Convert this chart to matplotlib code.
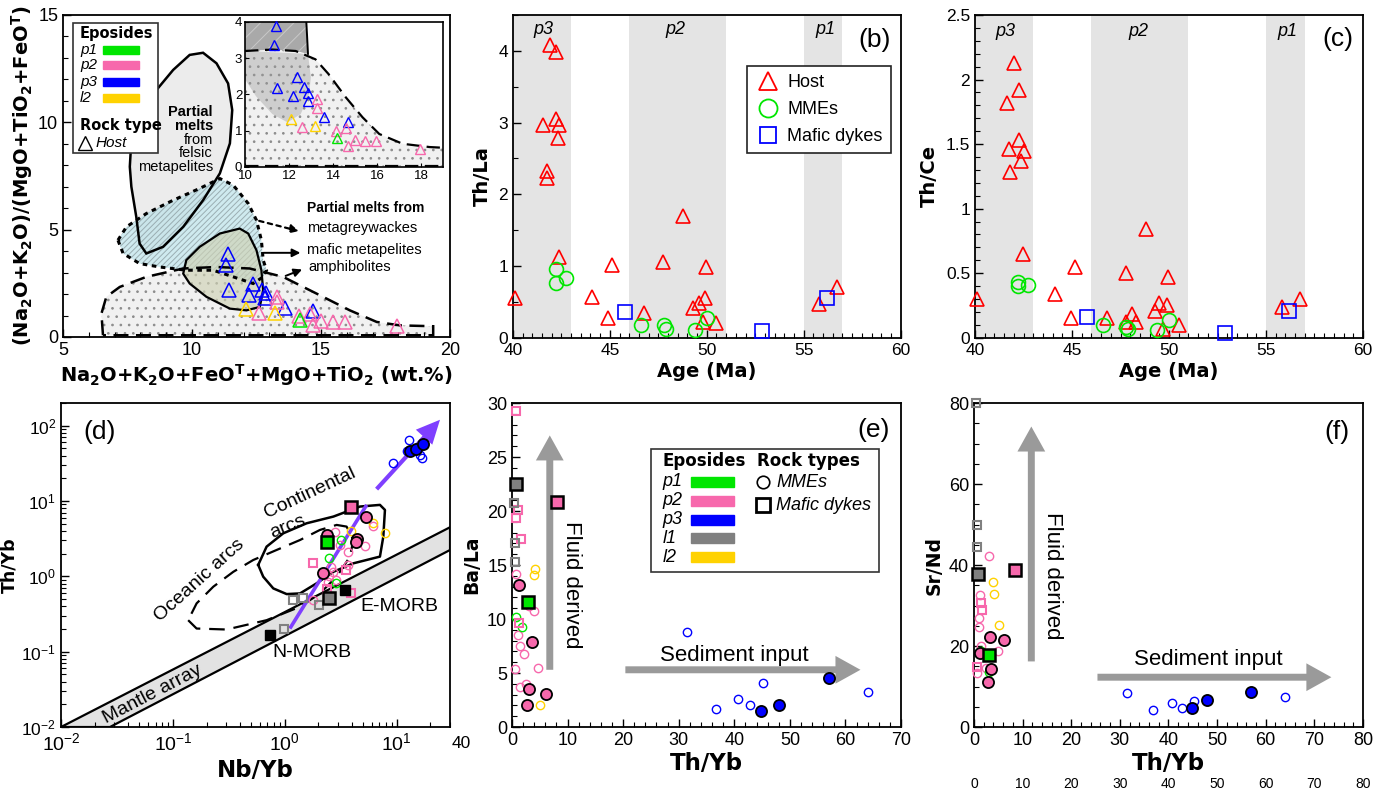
import numpy as np
import matplotlib.pyplot as plt
from matplotlib.patches import Polygon, Rectangle
from matplotlib.lines import Line2D
from matplotlib.ticker import MultipleLocator, LogLocator, NullFormatter

plt.rcParams['font.family'] = ['Liberation Sans', 'DejaVu Sans']
plt.rcParams['mathtext.fontset'] = 'dejavusans'
plt.rcParams['hatch.linewidth'] = 0.7

GREEN = '#00e600'
PINK = '#f768ac'
BLUE = '#0000ff'
GRAY = '#808080'
YELLOW = '#ffd200'
RED = '#ff0000'
PURPLE = '#7f3fff'
ARROW_GRAY = '#9a9a9a'
LABEL_FONT = 'DejaVu Sans'

# ---------------- (a) data ----------------
a_p3_x = [11.4, 11.32, 11.44, 12.35, 12.7, 12.2, 12.87, 12.84, 13.6, 14.7]
a_p3_y = [3.88, 3.36, 2.19, 2.48, 2.21, 1.95, 2.03, 1.83, 1.37, 1.23]
a_p2_x = [13.29, 13.29, 12.58, 14.13, 14.58, 14.7, 15.0, 15.45, 15.95, 17.95]
a_p2_y = [1.87, 1.64, 1.10, 0.99, 1.07, 0.58, 0.75, 0.71, 0.71, 0.50]
a_l2_x = [12.08, 13.2]
a_l2_y = [1.32, 1.12]
a_p1_x = [14.2]
a_p1_y = [0.79]

felsic_x = [7.59, 7.65, 7.97, 8.62, 9.27, 9.91, 10.43, 10.95, 11.40, 11.56, 11.47, 11.08,
            10.43, 9.66, 8.88, 8.23, 7.97, 7.84, 7.65]
felsic_y = [7.93, 9.17, 10.57, 11.50, 12.44, 13.14, 13.24, 12.75, 11.81, 10.57, 9.02, 7.62,
            6.37, 5.13, 4.20, 3.89, 4.35, 5.6, 7.0]
greywacke_x = [7.13, 7.46, 8.23, 9.27, 10.30, 11.08, 11.60, 12.18, 12.5, 12.69, 12.76, 12.89,
               12.76, 12.37, 11.6, 10.82, 9.78, 8.75, 7.97, 7.33]
greywacke_y = [4.51, 5.13, 5.75, 6.37, 6.92, 7.38, 7.07, 6.22, 5.44, 4.51, 3.58, 3.11,
               2.80, 2.49, 2.8, 3.11, 3.11, 3.26, 3.42, 3.89]
mafic_x = [9.66, 9.78, 10.30, 11.08, 11.85, 12.18, 12.5, 12.69, 12.76, 12.63, 12.11, 11.47, 10.56, 9.91]
mafic_y = [2.95, 3.58, 4.20, 4.82, 5.05, 4.82, 4.04, 3.11, 2.18, 1.40, 1.24, 1.32, 1.87, 2.49]
amphib_x = [6.55, 6.49, 6.68, 7.2, 8.23, 9.66, 10.95, 12.24, 13.53, 14.83, 16.12, 17.16, 18.06, 19.35, 19.35, 6.6]
amphib_y = [0.08, 1.09, 1.87, 2.33, 2.8, 3.19, 3.26, 3.19, 2.8, 2.02, 1.24, 0.70, 0.54, 0.50, 0.08, 0.08]

# inset fields
ins_amph_x = [10, 11.24, 12.3, 13.2, 13.8, 14.58, 15.34, 16.1, 17.16, 18.38, 19, 19, 10]
ins_amph_y = [3.2, 3.24, 3.2, 2.97, 2.56, 1.92, 1.37, 0.91, 0.64, 0.55, 0.53, 0.02, 0.02]
ins_dark_x = [10, 12.78, 12.82, 12.86, 12.3, 11.24, 10]
ins_dark_y = [4.05, 4.05, 3.6, 3.12, 3.2, 3.24, 3.2]
ins_lobe_x = [10, 12.86, 12.99, 12.91, 12.53, 11.93, 11.24, 10.5, 10]
ins_lobe_y = [3.2, 3.12, 2.47, 2.0, 1.46, 1.23, 1.46, 1.95, 2.42]

# ---------------- (b) / (c) data ----------------
band_start = [40, 46, 55]
band_end = [43, 51, 57]
band_label = ['p3', 'p2', 'p1']
band_label_x = [41.55, 48.4, 56.1]

b_host_age = [40.1, 41.9, 42.2, 41.57, 42.24, 42.4, 42.3, 41.76, 41.76, 42.4, 44.06, 45.13,
              44.92, 46.78, 47.76, 48.78, 49.95, 49.3, 49.6, 49.9, 49.8, 50.5, 55.8, 56.7]
b_host_thla = [0.55, 4.08, 3.98, 2.96, 3.05, 2.97, 2.79, 2.33, 2.22, 1.13, 0.57, 1.01,
               0.27, 0.35, 1.06, 1.69, 0.99, 0.41, 0.48, 0.56, 0.22, 0.21, 0.47, 0.70]
b_mme_age = [42.2, 42.2, 42.75, 46.6, 47.8, 47.9, 49.4, 50.0]
b_mme_thla = [0.96, 0.76, 0.83, 0.18, 0.18, 0.12, 0.11, 0.27]
b_dyke_age = [45.77, 52.87, 56.18]
b_dyke_thla = [0.36, 0.09, 0.55]

c_host_age = [40.12, 42.03, 42.25, 41.63, 42.27, 41.77, 42.5, 42.35, 41.8, 42.47, 44.1, 45.17,
              44.96, 46.8, 47.79, 48.8, 49.97, 47.8, 48.1, 48.3, 49.3, 49.5, 49.9, 49.7, 50.5,
              55.8, 56.74]
c_host_thce = [0.30, 2.13, 1.92, 1.82, 1.53, 1.46, 1.45, 1.37, 1.28, 0.65, 0.34, 0.55,
               0.15, 0.155, 0.50, 0.84, 0.47, 0.12, 0.18, 0.12, 0.21, 0.27, 0.25, 0.07, 0.10,
               0.24, 0.30]
c_mme_age = [42.2, 42.2, 42.75, 46.6, 47.8, 47.9, 49.4, 50.0]
c_mme_thce = [0.43, 0.40, 0.41, 0.10, 0.08, 0.07, 0.06, 0.14]
c_dyke_age = [45.78, 52.9, 56.17]
c_dyke_thce = [0.16, 0.04, 0.21]

# ---------------- (d) data ----------------
d_p3_open_x = [12.9, 12.3, 16.1, 16.7, 9.3]
d_p3_open_y = [65, 45.5, 41, 37, 31.9]
d_p3_fill_x = [13.2, 14.9, 17.3]
d_p3_fill_y = [45.5, 49, 57.5]
d_p2_open_x = [2.8, 3.7, 5.2, 6.1, 2.6, 2.7, 2.45, 2.9, 3.7, 1.8, 2.5, 3.1]
d_p2_open_y = [3.9, 2.1, 2.5, 4.7, 1.35, 1.15, 0.85, 0.89, 1.4, 0.48, 1.0, 2.6]
d_p2_fill_x = [5.3, 4.4, 4.3, 2.37, 2.18]
d_p2_fill_y = [6.1, 3.1, 2.9, 3.55, 1.12]
d_l2_open_x = [3.9, 6.2, 7.9]
d_l2_open_y = [4.0, 5.1, 3.8]
d_p1_open_x = [3.2, 2.5, 2.9]
d_p1_open_y = [3.0, 1.74, 0.81]
d_p2_sq_x = [1.8, 3.5, 2.37, 3.9]
d_p2_sq_y = [1.52, 1.21, 0.67, 0.61]
d_l1_sq_x = [1.19, 1.46, 2.03, 0.98]
d_l1_sq_y = [0.49, 0.51, 0.42, 0.2]
d_big_sq_x = [3.9, 2.4, 2.5]
d_big_sq_y = [8.3, 2.9, 0.51]
d_big_sq_c = [PINK, GREEN, GRAY]
morb_x = [0.74, 3.45]
morb_y = [0.169, 0.66]

mantle_poly_x = [0.01, 30, 30, 0.0274]
mantle_poly_y = [0.01, 4.49, 2.24, 0.01]
oceanic_x = [0.137, 0.163, 0.302, 0.688, 1.37, 2.06, 2.91, 3.83, 4.10, 3.57, 2.91, 2.06, 1.37,
             0.845, 0.523, 0.347, 0.230, 0.163, 0.137]
oceanic_y = [0.262, 0.203, 0.197, 0.262, 0.395, 0.594, 0.99, 1.83, 3.04, 4.58, 4.82, 4.13, 3.04,
             2.24, 1.65, 1.15, 0.73, 0.438, 0.262]
contin_x = [0.579, 0.642, 0.790, 1.04, 1.37, 1.93, 2.72, 4.10, 7.09, 7.60, 7.86, 7.09, 4.70,
            2.72, 1.57, 0.97, 0.688, 0.579]
contin_y = [1.42, 0.99, 0.692, 0.582, 0.594, 0.81, 1.15, 1.49, 1.83, 3.38, 7.62, 8.89, 8.45,
            6.22, 5.07, 3.73, 2.48, 1.42]
trend1_x = [1.11, 5.4]
trend1_y = [0.203, 8.9]
trend2_x = [6.62, 24.4]
trend2_y = [14.4, 120]

# ---------------- (e) data ----------------
e_p2_sq_x = [0.78, 1.08, 0.78, 1.56, 1.26]
e_p2_sq_y = [29.3, 20.05, 19.4, 17.4, 9.6]
e_l1_sq_x = [0.3, 0.6, 0.6]
e_l1_sq_y = [20.7, 17.0, 15.3]
e_big_sq_x = [0.66, 8.17, 2.88]
e_big_sq_y = [22.5, 20.8, 11.56]
e_big_sq_c = [GRAY, PINK, GREEN]
e_p2_c_x = [0.8, 1.14, 1.38, 2.16, 0.6, 1.38, 2.58, 4.6, 4.0, 3.0]
e_p2_c_y = [14.2, 8.5, 7.5, 6.8, 5.4, 3.7, 3.95, 5.5, 10.7, 11.2]
e_l2_c_x = [4.1, 3.9, 5.0]
e_l2_c_y = [14.6, 14.1, 2.0]
e_p1_c_x = [0.78, 1.86]
e_p1_c_y = [10.2, 9.3]
e_p2_fc_x = [1.2, 3.55, 3.0, 2.76, 6.07]
e_p2_fc_y = [13.15, 7.86, 3.48, 2.0, 3.1]
e_p3_c_x = [31.4, 36.7, 40.6, 42.8, 45.2, 64.0]
e_p3_c_y = [8.77, 1.71, 2.64, 2.0, 4.04, 3.26]
e_p3_fc_x = [44.8, 48.1, 57.0]
e_p3_fc_y = [1.52, 2.05, 4.54]

# ---------------- (f) data ----------------
f_l1_sq_x = [0.48, 0.69, 0.69]
f_l1_sq_y = [80, 49.9, 44.5]
f_big_sq_x = [0.82, 8.36, 3.0]
f_big_sq_y = [37.7, 38.7, 17.7]
f_big_sq_c = [GRAY, PINK, GREEN]
f_p2_sq_x = [1.5, 1.7, 0.69]
f_p2_sq_y = [30.7, 29.0, 14.9]
f_p2_c_x = [3.08, 1.17, 1.03, 1.03, 1.37, 4.9, 0.7, 2.5]
f_p2_c_y = [42.3, 32.6, 26.8, 24.7, 19.9, 18.7, 13.3, 14.5]
f_l2_c_x = [3.9, 4.1, 5.1]
f_l2_c_y = [35.8, 32.9, 25.3]
f_p1_c_x = [1.5, 3.0]
f_p1_c_y = [18.7, 13.7]
f_p2_fc_x = [3.2, 6.2, 1.3, 3.56, 2.9]
f_p2_fc_y = [22.2, 21.6, 18.2, 14.3, 11.0]
f_p3_c_x = [31.4, 36.9, 40.7, 42.8, 45.2, 64.0]
f_p3_c_y = [8.3, 4.1, 6.0, 4.8, 6.4, 7.5]
f_p3_fc_x = [44.9, 47.9, 57.0]
f_p3_fc_y = [4.6, 6.6, 8.7]

episode_names = ['p1', 'p2', 'p3', 'l1', 'l2']
episode_colors = [GREEN, PINK, BLUE, GRAY, YELLOW]


def style_axes(ax, xlabel, ylabel, xfs=13.5, yfs=13.5, xpad=2, ypad=4):
    ax.tick_params(which='both', direction='in', top=False, right=False, labelsize=12.5)
    ax.tick_params(which='major', length=6, width=1.0)
    ax.tick_params(which='minor', length=3.5, width=0.8)
    for s in ax.spines.values():
        s.set_linewidth(1.3)
    ax.set_xlabel(xlabel, fontsize=xfs, fontweight='bold', family=LABEL_FONT, labelpad=xpad)
    ax.set_ylabel(ylabel, fontsize=yfs, fontweight='bold', family=LABEL_FONT, labelpad=ypad)


def open_pts(ax, x, y, marker, color, ms, mew=1.0, z=4):
    ax.plot(x, y, ls='none', marker=marker, ms=ms, mfc='none', mec=color, mew=mew, zorder=z, clip_on=False)


def fill_pts(ax, x, y, marker, color, ms, mew=1.3, z=5):
    ax.plot(x, y, ls='none', marker=marker, ms=ms, mfc=color, mec='black', mew=mew, zorder=z, clip_on=False)


def fat_arrow(ax, tail, tip, color, scale=10, tw=0.5, hw=2.0, hl=1.8):
    ax.annotate('', xy=tip, xytext=tail,
                arrowprops=dict(arrowstyle=f'simple,head_length={hl},head_width={hw},tail_width={tw}',
                                mutation_scale=scale, color=color, lw=0, shrinkA=0, shrinkB=0), zorder=2)


fig = plt.figure(figsize=(13.86, 7.97), dpi=100)

# ===================== (a) =====================
axa = fig.add_axes([0.04545, 0.5772, 0.2792, 0.4040])
axa.set_xlim(5, 20)
axa.set_ylim(0, 15)
axa.xaxis.set_major_locator(MultipleLocator(5))
axa.xaxis.set_minor_locator(MultipleLocator(1))
axa.yaxis.set_major_locator(MultipleLocator(5))
axa.yaxis.set_minor_locator(MultipleLocator(1))
style_axes(axa, r'$\mathbf{Na_2O{+}K_2O{+}FeO^T{+}MgO{+}TiO_2}$ (wt.%)',
           r'$\mathbf{(Na_2O{+}K_2O)/(MgO{+}TiO_2{+}FeO^T)}$', xfs=14, yfs=14, ypad=2)
axa.tick_params(labelsize=13)

axa.add_patch(Polygon(np.column_stack([amphib_x, amphib_y]), closed=True, facecolor='#f1f1f1',
                      edgecolor='#8c8c8c', hatch='..', lw=0, zorder=1))
axa.add_patch(Polygon(np.column_stack([felsic_x, felsic_y]), closed=True, facecolor='#ececec',
                      lw=0, zorder=1.2))
axa.add_patch(Polygon(np.column_stack([greywacke_x, greywacke_y]), closed=True, facecolor='#bfe3ea',
                      edgecolor='#8a9a9e', hatch='//////', lw=0, alpha=0.75, zorder=1.4))
axa.add_patch(Polygon(np.column_stack([mafic_x, mafic_y]), closed=True, facecolor='#cfd2b4',
                      lw=0, alpha=0.65, zorder=1.6))
axa.add_patch(Polygon(np.column_stack([amphib_x, amphib_y]), closed=True, fill=False,
                      edgecolor='black', lw=1.8, ls=(0, (6, 3)), zorder=2))
axa.add_patch(Polygon(np.column_stack([felsic_x, felsic_y]), closed=True, fill=False,
                      edgecolor='black', lw=1.8, zorder=2))
axa.add_patch(Polygon(np.column_stack([greywacke_x, greywacke_y]), closed=True, fill=False,
                      edgecolor='black', lw=2.2, ls=(0, (1.5, 1.5)), zorder=2))
axa.add_patch(Polygon(np.column_stack([mafic_x, mafic_y]), closed=True, fill=False,
                      edgecolor='black', lw=1.6, zorder=2))

open_pts(axa, a_p3_x, a_p3_y, '^', BLUE, 10, mew=1.1)
open_pts(axa, a_p2_x, a_p2_y, '^', PINK, 10, mew=1.1)
open_pts(axa, a_l2_x, a_l2_y, '^', YELLOW, 10, mew=1.1)
open_pts(axa, a_p1_x, a_p1_y, '^', GREEN, 10, mew=1.1)

axa.text(10.81, 10.8, 'Partial\nmelts', fontsize=10.5, fontweight='bold', ha='right', va='top',
         linespacing=0.95, zorder=6)
axa.text(10.81, 9.5, 'from\nfelsic\nmetapelites', fontsize=10.5, ha='right', va='top',
         linespacing=0.95, zorder=6)
axa.text(14.46, 5.99, 'Partial melts from', fontsize=10, fontweight='bold', va='center')
axa.text(14.46, 5.06, 'metagreywackes', fontsize=10.5, va='center')
axa.text(14.46, 4.05, 'mafic metapelites', fontsize=10.5, va='center')
axa.text(14.5, 3.26, 'amphibolites', fontsize=10.5, va='center')
axa.annotate('', xy=(14.25, 4.9), xytext=(12.5, 5.44),
             arrowprops=dict(arrowstyle='-|>', ls=(0, (2, 2)), lw=1.6, color='black', mutation_scale=12))
axa.annotate('', xy=(14.31, 3.92), xytext=(12.69, 3.92),
             arrowprops=dict(arrowstyle='-|>', lw=1.4, color='black', mutation_scale=12))
axa.annotate('', xy=(14.37, 3.19), xytext=(13.53, 2.80),
             arrowprops=dict(arrowstyle='-|>', lw=1.4, color='black', mutation_scale=12))
axa.text(0.918, 0.917, '(a)', transform=axa.transAxes, fontsize=19, ha='center', va='center')

# legend (a)
axa.add_patch(Rectangle((0.026, 0.571), 0.219, 0.404, transform=axa.transAxes, facecolor='white',
                        edgecolor='#333333', lw=1.2, zorder=7))
axa.text(0.044, 0.944, 'Eposides', transform=axa.transAxes, fontsize=10.5, fontweight='bold',
         family=LABEL_FONT, va='center', zorder=8)
for yy, lab, col in zip([0.891, 0.845, 0.792, 0.742], ['p1', 'p2', 'p3', 'l2'], [GREEN, PINK, BLUE, YELLOW]):
    axa.text(0.044, yy, lab, transform=axa.transAxes, fontsize=11, style='italic', va='center', zorder=8)
    axa.add_patch(Rectangle((0.103, yy - 0.0125), 0.093, 0.025, transform=axa.transAxes,
                            color=col, zorder=8))
axa.text(0.044, 0.658, 'Rock type', transform=axa.transAxes, fontsize=10.5, fontweight='bold',
         family=LABEL_FONT, va='center', zorder=8)
axa.plot([0.058], [0.602], transform=axa.transAxes, marker='^', ms=10, mfc='none', mec='black',
         mew=1.0, zorder=8)
axa.text(0.085, 0.602, 'Host', transform=axa.transAxes, fontsize=11, style='italic', va='center', zorder=8)

# inset
axi = fig.add_axes([0.1768, 0.7905, 0.1429, 0.1819])
axi.set_xlim(10, 19)
axi.set_ylim(0, 4)
axi.xaxis.set_major_locator(MultipleLocator(2))
axi.yaxis.set_major_locator(MultipleLocator(1))
axi.tick_params(direction='in', labelsize=9.5, length=3, pad=2, top=False, right=False)
for s in axi.spines.values():
    s.set_linewidth(1.2)
axi.add_patch(Polygon(np.column_stack([ins_amph_x, ins_amph_y]), closed=True, facecolor='#f1f1f1',
                      edgecolor='#8c8c8c', hatch='..', lw=0, zorder=1))
axi.add_patch(Polygon(np.column_stack([ins_lobe_x, ins_lobe_y]), closed=True, facecolor='#9a9a9a',
                      alpha=0.4, lw=0, zorder=1.2))
axi.add_patch(Polygon(np.column_stack([ins_dark_x, ins_dark_y]), closed=True, facecolor='#a9a9a9',
                      edgecolor='#c9c9c9', hatch='//', lw=0, zorder=1.3))
axi.plot(ins_amph_x[:11], ins_amph_y[:11], color='black', lw=1.6, ls=(0, (6, 3)), zorder=2)
axi.plot([10, 19], [0.02, 0.02], color='black', lw=1.6, ls=(0, (6, 3)), zorder=2)
axi.plot(ins_dark_x[1:4], ins_dark_y[1:4], color='black', lw=1.4, zorder=2)
open_pts(axi, a_p3_x, a_p3_y, '^', BLUE, 7.5, mew=1.0)
open_pts(axi, a_p2_x, a_p2_y, '^', PINK, 7.5, mew=1.0)
open_pts(axi, a_l2_x, a_l2_y, '^', YELLOW, 7.5, mew=1.0)
open_pts(axi, a_p1_x, a_p1_y, '^', GREEN, 7.5, mew=1.0)


# ===================== (b) & (c) =====================
def age_panel(rect, host_x, host_y, mme_x, mme_y, dyke_x, dyke_y, ymax, ymaj, ymin, ylabel,
              tag, tagxy, plabel_y, ytickfmt=None):
    ax = fig.add_axes(rect)
    ax.set_xlim(40, 60)
    ax.set_ylim(0, ymax)
    ax.xaxis.set_major_locator(MultipleLocator(5))
    ax.xaxis.set_minor_locator(MultipleLocator(0.5))
    ax.yaxis.set_major_locator(MultipleLocator(ymaj))
    ax.yaxis.set_minor_locator(MultipleLocator(ymin))
    if ytickfmt:
        ax.yaxis.set_major_formatter(ytickfmt)
    style_axes(ax, 'Age (Ma)', ylabel, xfs=14, yfs=14, xpad=3, ypad=5)
    for s0, s1, lab, lx in zip(band_start, band_end, band_label, band_label_x):
        ax.axvspan(s0, s1, color='#e4e4e4', lw=0, zorder=0)
        ax.text(lx, plabel_y, lab, fontsize=13, style='italic', ha='center', va='center')
    open_pts(ax, host_x, host_y, '^', RED, 10, mew=1.2)
    open_pts(ax, mme_x, mme_y, 'o', GREEN, 10, mew=1.2)
    open_pts(ax, dyke_x, dyke_y, 's', BLUE, 9.5, mew=1.2)
    ax.text(tagxy[0], tagxy[1], tag, transform=ax.transAxes, fontsize=19, ha='center', va='center')
    return ax


def trim_fmt(v, pos):
    return f'{v:g}'


axb = age_panel([0.3701, 0.5763, 0.2797, 0.4049], b_host_age, b_host_thla, b_mme_age, b_mme_thla,
                b_dyke_age, b_dyke_thla, 4.5, 1, 0.5, 'Th/La', '(b)', (0.934, 0.922), 4.30)
handles = [Line2D([], [], ls='none', marker='^', ms=13, mfc='none', mec=RED, mew=1.3),
           Line2D([], [], ls='none', marker='o', ms=13, mfc='none', mec=GREEN, mew=1.3),
           Line2D([], [], ls='none', marker='s', ms=12, mfc='none', mec=BLUE, mew=1.3)]
leg = axb.legend(handles, ['Host', 'MMEs', 'Mafic dykes'], loc='upper right',
                 bbox_to_anchor=(0.975, 0.842), fontsize=13, frameon=True, fancybox=False,
                 edgecolor='#222222', framealpha=1, labelspacing=0.55, handletextpad=0.4,
                 handlelength=1.4, borderpad=0.45, borderaxespad=0)
leg.get_frame().set_linewidth(1.2)

axc = age_panel([0.7035, 0.5763, 0.2799, 0.4049], c_host_age, c_host_thce, c_mme_age, c_mme_thce,
                c_dyke_age, c_dyke_thce, 2.5, 0.5, 0.1, 'Th/Ce', '(c)', (0.936, 0.925), 2.37,
                ytickfmt=plt.FuncFormatter(trim_fmt))

# ===================== (d) =====================
axd = fig.add_axes([0.0440, 0.0878, 0.2807, 0.4065])
axd.set_xscale('log')
axd.set_yscale('log')
axd.set_xlim(0.01, 30)
axd.set_ylim(0.01, 200)
axd.xaxis.set_major_locator(LogLocator(base=10, numticks=10))
axd.yaxis.set_major_locator(LogLocator(base=10, numticks=10))
axd.xaxis.set_minor_locator(LogLocator(base=10, subs=np.arange(2, 10), numticks=10))
axd.yaxis.set_minor_locator(LogLocator(base=10, subs=np.arange(2, 10), numticks=10))
axd.xaxis.set_minor_formatter(NullFormatter())
axd.yaxis.set_minor_formatter(NullFormatter())
style_axes(axd, 'Nb/Yb', 'Th/Yb', xfs=16.5, yfs=12.5, xpad=4, ypad=2)
axd.tick_params(axis='x', labelsize=14)
axd.tick_params(axis='y', labelsize=12.5)
axd.text(1.03, -0.05, '40', transform=axd.transAxes, fontsize=12.5, ha='center', va='center')

axd.add_patch(Polygon(np.column_stack([mantle_poly_x, mantle_poly_y]), closed=True,
                      facecolor='#e2e2e2', edgecolor='black', lw=1.6, zorder=1))
axd.plot(oceanic_x, oceanic_y, color='black', lw=1.6, ls=(0, (7, 4)), zorder=2)
axd.plot(contin_x, contin_y, color='black', lw=1.8, zorder=2)
axd.plot(trend1_x, trend1_y, color=PURPLE, lw=2.6, solid_capstyle='butt', zorder=3)
axd.annotate('', xy=(trend2_x[1], trend2_y[1]), xytext=(trend2_x[0], trend2_y[0]),
             arrowprops=dict(arrowstyle='simple,head_length=1.7,head_width=1.6,tail_width=0.3',
                             mutation_scale=10, color=PURPLE, lw=0, shrinkA=0, shrinkB=0), zorder=3)

open_pts(axd, d_p2_open_x, d_p2_open_y, 'o', PINK, 6)
open_pts(axd, d_l2_open_x, d_l2_open_y, 'o', YELLOW, 6)
open_pts(axd, d_p1_open_x, d_p1_open_y, 'o', GREEN, 6)
open_pts(axd, d_p3_open_x, d_p3_open_y, 'o', BLUE, 6)
open_pts(axd, d_p2_sq_x, d_p2_sq_y, 's', PINK, 6, mew=1.5)
open_pts(axd, d_l1_sq_x, d_l1_sq_y, 's', GRAY, 6, mew=1.5)
fill_pts(axd, d_p2_fill_x, d_p2_fill_y, 'o', PINK, 8)
fill_pts(axd, d_p3_fill_x, d_p3_fill_y, 'o', BLUE, 8)
for xx, yy, cc in zip(d_big_sq_x, d_big_sq_y, d_big_sq_c):
    fill_pts(axd, [xx], [yy], 's', cc, 8, mew=1.8, z=6)
fill_pts(axd, morb_x, morb_y, 's', 'black', 7.5, mew=1.0, z=4)

axd.text(0.235, 0.102, 'Mantle array', transform=axd.transAxes, fontsize=14, rotation=27.5,
         ha='center', va='center', zorder=4)
axd.text(0.357, 0.454, 'Oceanic arcs', transform=axd.transAxes, fontsize=14, rotation=42,
         ha='center', va='center')
axd.text(0.640, 0.722, 'Continental', transform=axd.transAxes, fontsize=14, rotation=25,
         ha='center', va='center')
axd.text(0.584, 0.618, 'arcs', transform=axd.transAxes, fontsize=14, rotation=22,
         ha='center', va='center')
axd.text(0.870, 0.371, 'E-MORB', transform=axd.transAxes, fontsize=14, ha='center', va='center')
axd.text(0.644, 0.230, 'N-MORB', transform=axd.transAxes, fontsize=14, ha='center', va='center')
axd.text(0.100, 0.911, '(d)', transform=axd.transAxes, fontsize=19, ha='center', va='center')


# ===================== (e) & (f) =====================
def ratio_panel(rect, xmax, ymax, ymaj, ymin, ylabel, tag, tagxy):
    ax = fig.add_axes(rect)
    ax.set_xlim(0, xmax)
    ax.set_ylim(0, ymax)
    ax.xaxis.set_major_locator(MultipleLocator(10))
    ax.xaxis.set_minor_locator(MultipleLocator(2))
    ax.yaxis.set_major_locator(MultipleLocator(ymaj))
    ax.yaxis.set_minor_locator(MultipleLocator(ymin))
    style_axes(ax, 'Th/Yb', ylabel, xfs=16.5, yfs=13.5, xpad=2, ypad=4)
    ax.tick_params(labelsize=13)
    ax.text(tagxy[0], tagxy[1], tag, transform=ax.transAxes, fontsize=19, ha='center', va='center')
    return ax


axe = ratio_panel([0.3694, 0.0878, 0.2807, 0.4065], 70, 30, 5, 1, 'Ba/La', '(e)', (0.929, 0.917))
fat_arrow(axe, (6.8, 5.3), (6.8, 27.0), ARROW_GRAY)
fat_arrow(axe, (20.4, 5.3), (62.7, 5.3), ARROW_GRAY)
axe.text(10.7, 13.2, 'Fluid derived', fontsize=16, rotation=-90, ha='center', va='center')
axe.text(40.0, 6.6, 'Sediment input', fontsize=16, ha='center', va='center')
open_pts(axe, e_p2_c_x, e_p2_c_y, 'o', PINK, 6)
open_pts(axe, e_l2_c_x, e_l2_c_y, 'o', YELLOW, 6)
open_pts(axe, e_p1_c_x, e_p1_c_y, 'o', GREEN, 6)
open_pts(axe, e_p3_c_x, e_p3_c_y, 'o', BLUE, 6)
open_pts(axe, e_p2_sq_x, e_p2_sq_y, 's', PINK, 6, mew=1.5)
open_pts(axe, e_l1_sq_x, e_l1_sq_y, 's', GRAY, 6, mew=1.5)
fill_pts(axe, e_p2_fc_x, e_p2_fc_y, 'o', PINK, 8)
fill_pts(axe, e_p3_fc_x, e_p3_fc_y, 'o', BLUE, 8)
for xx, yy, cc in zip(e_big_sq_x, e_big_sq_y, e_big_sq_c):
    fill_pts(axe, [xx], [yy], 's', cc, 8.5, mew=1.8, z=6)

# legend (e)
axe.add_patch(Rectangle((0.357, 0.478), 0.586, 0.380, transform=axe.transAxes, facecolor='white',
                        edgecolor='#333333', lw=1.2, zorder=7))
axe.text(0.387, 0.821, 'Eposides', transform=axe.transAxes, fontsize=12, fontweight='bold',
         family=LABEL_FONT, va='center', zorder=8)
axe.text(0.629, 0.821, 'Rock types', transform=axe.transAxes, fontsize=12, fontweight='bold',
         family=LABEL_FONT, va='center', zorder=8)
for yy, lab, col in zip([0.757, 0.698, 0.639, 0.582, 0.524], episode_names, episode_colors):
    axe.text(0.387, yy, lab, transform=axe.transAxes, fontsize=13, style='italic', va='center', zorder=8)
    axe.add_patch(Rectangle((0.460, yy - 0.0155), 0.111, 0.031, transform=axe.transAxes,
                            color=col, zorder=8))
axe.plot([0.645], [0.755], transform=axe.transAxes, marker='o', ms=9, mfc='none', mec='black',
         mew=1.2, zorder=8, clip_on=False)
axe.text(0.679, 0.755, 'MMEs', transform=axe.transAxes, fontsize=13, style='italic', va='center', zorder=8)
axe.plot([0.645], [0.684], transform=axe.transAxes, marker='s', ms=10, mfc='none', mec='black',
         mew=2.0, zorder=8, clip_on=False)
axe.text(0.679, 0.684, 'Mafic dykes', transform=axe.transAxes, fontsize=13, style='italic',
         va='center', zorder=8)

axf = ratio_panel([0.7027, 0.0878, 0.2807, 0.4065], 80, 80, 20, 5, 'Sr/Nd', '(f)', (0.932, 0.911))
fat_arrow(axf, (11.8, 16.2), (11.8, 74.2), ARROW_GRAY)
fat_arrow(axf, (25.4, 12.3), (73.5, 12.3), ARROW_GRAY)
axf.text(16.2, 37.3, 'Fluid derived', fontsize=16, rotation=-90, ha='center', va='center')
axf.text(48.1, 16.6, 'Sediment input', fontsize=16, ha='center', va='center')
open_pts(axf, f_p2_c_x, f_p2_c_y, 'o', PINK, 6)
open_pts(axf, f_l2_c_x, f_l2_c_y, 'o', YELLOW, 6)
open_pts(axf, f_p1_c_x, f_p1_c_y, 'o', GREEN, 6)
open_pts(axf, f_p3_c_x, f_p3_c_y, 'o', BLUE, 6)
open_pts(axf, f_p2_sq_x, f_p2_sq_y, 's', PINK, 6, mew=1.5)
open_pts(axf, f_l1_sq_x, f_l1_sq_y, 's', GRAY, 6, mew=1.5)
fill_pts(axf, f_p2_fc_x, f_p2_fc_y, 'o', PINK, 8)
fill_pts(axf, f_p3_fc_x, f_p3_fc_y, 'o', BLUE, 8)
for xx, yy, cc in zip(f_big_sq_x, f_big_sq_y, f_big_sq_c):
    fill_pts(axf, [xx], [yy], 's', cc, 8.5, mew=1.8, z=6)

sec = axf.secondary_xaxis(-0.15)
sec.set_xticks(np.arange(0, 81, 10))
sec.tick_params(length=0, labelsize=10, pad=1)
sec.spines['bottom'].set_visible(False)

fig.savefig('out.png', dpi=100)
